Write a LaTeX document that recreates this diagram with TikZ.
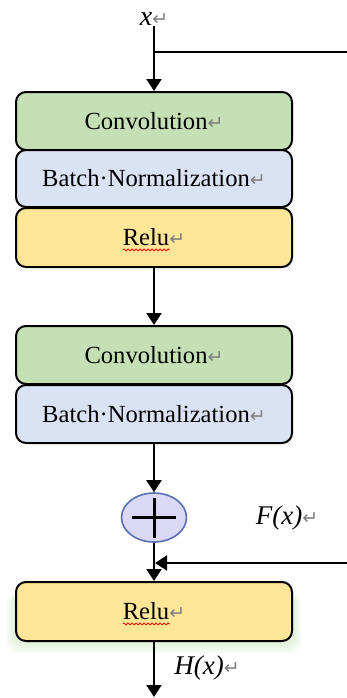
\documentclass[tikz,border=0pt]{standalone}
\usepackage{fontspec}
\setmainfont{Liberation Serif}
\newfontfamily\markfont{DejaVu Sans}
\usetikzlibrary{positioning, backgrounds, shapes, arrows.meta, decorations.pathmorphing}

\definecolor{convgreen}{HTML}{C5E0B4}
\definecolor{bnblue}{HTML}{DAE3F3}
\definecolor{reluyellow}{HTML}{FFE699}
\definecolor{addfill}{HTML}{D9D9F5}
\definecolor{addline}{HTML}{5B6FB5}
\definecolor{glowgreen}{HTML}{A9D18E}

% paragraph mark after every text
\newcommand{\pmark}{{\color{gray}\markfont\fontsize{9.5}{9.5}\selectfont ↵}}

\begin{document}
\begin{tikzpicture}[x=0.5pt, y=-0.5pt, line width=1pt, >={Triangle[width=7.5pt,length=6pt]},
    layer/.style={rectangle, draw, line width=1pt, rounded corners=5pt, minimum width=138pt, inner sep=0pt, font=\fontsize{12.3}{14}\selectfont},
    convbox/.style={layer, fill=convgreen, minimum height=29pt},
    bnbox/.style={layer, fill=bnblue, minimum height=28.5pt},
    relubox/.style={layer, fill=reluyellow, minimum height=29.5pt},
    addnode/.style={ellipse, draw=addline, fill=addfill, line width=0.8pt, minimum width=32.5pt, minimum height=24.5pt, inner sep=0pt,
      path picture={\draw[black, line width=1.5pt] ([xshift=-11pt]path picture bounding box.center) -- ([xshift=11pt]path picture bounding box.center)
        ([yshift=-10pt]path picture bounding box.center) -- ([yshift=10pt]path picture bounding box.center);}},
    sig/.style={inner sep=0pt, font=\fontsize{13.5}{14}\selectfont\itshape},
    squiggle/.style={red, line width=0.4pt, decorate, decoration={snake, amplitude=0.5pt, segment length=2pt}}]
  \useasboundingbox (0,0) rectangle (347,698);

  \node[sig, font=\fontsize{14}{14}\selectfont\itshape] (xin) at (154,19) {x\pmark};

  % first block
  \node[convbox] (conva) at (154,121) {Convolution\pmark};
  \node[bnbox] (bna) at (154,178.5) {Batch·Normalization\pmark};
  \node[relubox] (relua) at (154,237.5) {Relu\pmark};
  \draw[squiggle] ([yshift=-2pt]relua.text) -- ++(47,0);

  % second block
  \node[convbox] (convb) at (154,355) {Convolution\pmark};
  \node[bnbox, minimum height=29pt] (bnb) at (154,414) {Batch·Normalization\pmark};

  \node[addnode] (add) at (154,517.5) {};
  \node[sig] (fx) at (287,518) {F(x)\pmark};

  % shortcut ends (run past the right edge)
  \coordinate (split) at (154,52);
  \coordinate (skipout) at (347,52);
  \coordinate (skipin) at (347,563);
  \coordinate (merge) at (155,563);

  \node[relubox] (relub) at (154,611.5) {Relu\pmark};
  \draw[squiggle] ([yshift=-2pt]relub.text) -- ++(47,0);
  \begin{scope}[on background layer]
    \foreach \k in {1,...,10}
      \fill[glowgreen, opacity=0.04, rounded corners=6pt] ([xshift=-\k*0.45pt, yshift=-\k*0.6pt]relub.south west) rectangle ([xshift=\k*0.45pt, yshift=-6pt]relub.north east);
  \end{scope}

  \coordinate (hout) at (154,697);
  \node[sig] (hx) at (207,668) {H(x)\pmark};

  \path (xin.south) edge[->] (conva.north);
  \draw (split) -- (skipout);
  \path (relua) edge[->] (convb);
  \path (bnb) edge[->] (add);
  \path (add.south) edge[->] (relub.north);
  \draw[->] (skipin) -- (merge);
  \path (relub) edge[->] (hout);
\end{tikzpicture}
\end{document}
